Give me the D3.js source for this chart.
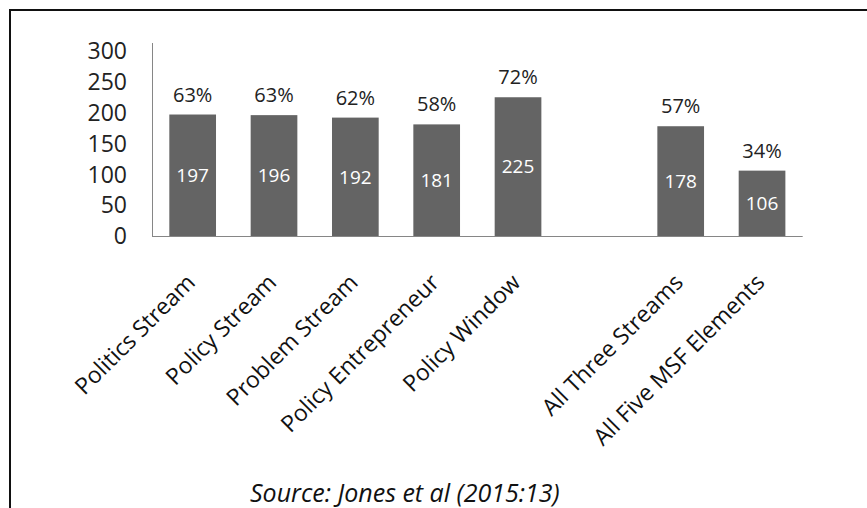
<!DOCTYPE html>
<html>
<head>
<meta charset="utf-8">
<script src="https://cdn.jsdelivr.net/npm/d3@7"></script>
<style>
  body { margin: 0; background: #fff; }
  text { font-family: "Open Sans", sans-serif; }
</style>
</head>
<body>
<script>
// categories ("" is the empty slot between the two groups)
let categories = [
  "Politics Stream",
  "Policy Stream",
  "Problem Stream",
  "Policy Entrepreneur",
  "Policy Window",
  "",
  "All Three Streams",
  "All Five MSF Elements"
];
let counts = [197, 196, 192, 181, 225, null, 178, 106];
let percents = ["63%", "63%", "62%", "58%", "72%", null, "57%", "34%"];
let yTicks = [0, 50, 100, 150, 200, 250, 300];
let source = "Source: Jones et al (2015:13)";

let width = 867, height = 508;
let barColor = "#646464";
let axisColor = "#868686";

let svg = d3.select("body").append("svg")
  .attr("width", width)
  .attr("height", height);

// frame (only top and left edges show)
svg.append("path")
  .attr("d", "M10," + height + "V10H" + width)
  .attr("fill", "none")
  .attr("stroke", "#111")
  .attr("stroke-width", 2);

let x = d3.scaleBand()
  .domain(categories.map((c, i) => i))
  .range([152, 802.7])
  .paddingInner(0.426)
  .paddingOuter(0.213);

let y = d3.scaleLinear()
  .domain([0, 300])
  .range([236, 51]);

let rows = categories.map((c, i) => ({ i: i, name: c, count: counts[i], pct: percents[i] }))
  .filter(d => d.count != null);

// axes lines
svg.append("line")
  .attr("x1", 152.5).attr("x2", 152.5)
  .attr("y1", y(0)).attr("y2", y(300) - 8)
  .attr("stroke", axisColor);
svg.append("line")
  .attr("x1", x.range()[0]).attr("x2", x.range()[1])
  .attr("y1", y(0) + 0.5).attr("y2", y(0) + 0.5)
  .attr("stroke", axisColor);

// y tick labels
svg.selectAll(".ytick")
  .data(yTicks)
  .enter().append("text")
  .attr("class", "ytick")
  .attr("x", 127)
  .attr("y", d => y(d))
  .attr("dy", "0.36em")
  .attr("text-anchor", "end")
  .style("font-size", "23px")
  .style("fill", "#222")
  .text(d => d);

// bars
svg.selectAll(".bar")
  .data(rows)
  .enter().append("rect")
  .attr("class", "bar")
  .attr("x", d => x(d.i))
  .attr("width", x.bandwidth())
  .attr("y", d => y(d.count))
  .attr("height", d => y(0) - y(d.count))
  .attr("fill", barColor);

// counts inside bars
svg.selectAll(".count")
  .data(rows)
  .enter().append("text")
  .attr("class", "count")
  .attr("x", d => x(d.i) + x.bandwidth() / 2)
  .attr("y", d => (y(d.count) + y(0)) / 2)
  .attr("dy", "0.36em")
  .attr("text-anchor", "middle")
  .style("font-size", "19px")
  .style("fill", "#fff")
  .text(d => d.count);

// percentages above bars
svg.selectAll(".pct")
  .data(rows)
  .enter().append("text")
  .attr("class", "pct")
  .attr("x", d => x(d.i) + x.bandwidth() / 2)
  .attr("y", d => y(d.count) - 13)
  .attr("text-anchor", "middle")
  .style("font-size", "20px")
  .style("fill", "#222")
  .text(d => d.pct);

// rotated category labels
svg.selectAll(".cat")
  .data(rows)
  .enter().append("text")
  .attr("class", "cat")
  .attr("text-anchor", "end")
  .attr("transform", d => "translate(" + (x(d.i) + x.bandwidth() / 2 - 2) + "," + (y(0) + 42) + ") rotate(-45)")
  .attr("dy", "0.36em")
  .style("font-size", "23px")
  .style("fill", "#111")
  .text(d => d.name);

svg.append("text")
  .attr("x", 250)
  .attr("y", 502)
  .style("font-size", "25px")
  .style("font-style", "italic")
  .style("fill", "#111")
  .text(source);
</script>
</body>
</html>
